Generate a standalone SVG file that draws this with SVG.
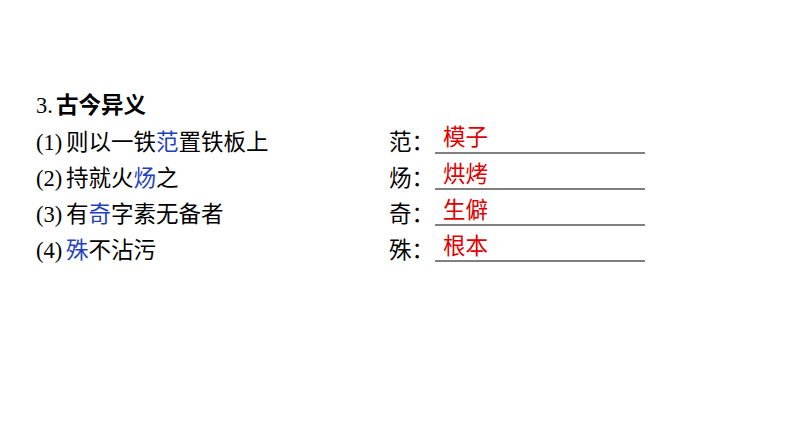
<svg xmlns="http://www.w3.org/2000/svg" width="794" height="447" viewBox="0 0 794 447">
<style>
text{font-family:"Liberation Serif","Noto Sans CJK SC",serif;font-size:22.5px;fill:#000}
.b{font-weight:bold}
.blue{fill:#1f3fbf}
.red{fill:#e00000}
line{stroke:#000;stroke-width:1}
</style>
<rect width="794" height="447" fill="#fff"/>
<text x="36" y="113"><tspan>3.</tspan><tspan class="b" x="56">古今异义</tspan></text>
<text x="36" y="150">(1)<tspan x="66">则以一铁<tspan class="blue">范</tspan>置铁板上</tspan></text>
<text x="36" y="186">(2)<tspan x="66">持就火<tspan class="blue">炀</tspan>之</tspan></text>
<text x="36" y="222">(3)<tspan x="66">有<tspan class="blue">奇</tspan>字素无备者</tspan></text>
<text x="36" y="258">(4)<tspan x="66"><tspan class="blue">殊</tspan>不沾污</tspan></text>
<text x="389" y="150">范：</text>
<text x="389" y="186">炀：</text>
<text x="389" y="222">奇：</text>
<text x="389" y="258">殊：</text>
<text class="red" x="443" y="145">模子</text>
<text class="red" x="443" y="182">烘烤</text>
<text class="red" x="443" y="218">生僻</text>
<text class="red" x="443" y="254">根本</text>
<line x1="435" y1="153" x2="645" y2="153"/>
<line x1="435" y1="189" x2="645" y2="189"/>
<line x1="435" y1="225" x2="645" y2="225"/>
<line x1="435" y1="261" x2="645" y2="261"/>
</svg>
